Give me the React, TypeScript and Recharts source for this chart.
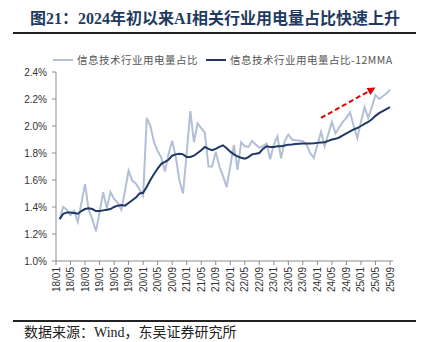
import React from 'react';
import { LineChart, Line, XAxis, YAxis, ReferenceLine } from 'recharts';

const months = [
  '18/01','18/02','18/03','18/04','18/05','18/06','18/07','18/08','18/09','18/10','18/11','18/12',
  '19/01','19/02','19/03','19/04','19/05','19/06','19/07','19/08','19/09','19/10','19/11','19/12',
  '20/01','20/02','20/03','20/04','20/05','20/06','20/07','20/08','20/09','20/10','20/11','20/12',
  '21/01','21/02','21/03','21/04','21/05','21/06','21/07','21/08','21/09','21/10','21/11','21/12',
  '22/01','22/02','22/03','22/04','22/05','22/06','22/07','22/08','22/09','22/10','22/11','22/12',
  '23/01','23/02','23/03','23/04','23/05','23/06','23/07','23/08','23/09','23/10','23/11','23/12',
  '24/01','24/02','24/03','24/04','24/05','24/06','24/07','24/08','24/09','24/10','24/11','24/12',
  '25/01','25/02','25/03','25/04','25/05','25/06','25/07','25/08','25/09',
];

const shareMonthly = [
  null, 1.31, 1.40, 1.38, 1.34, 1.37, 1.29, 1.43, 1.57, 1.38, 1.31, 1.22,
  1.36, 1.51, 1.39, 1.51, 1.46, 1.43, 1.38, 1.52, 1.67, 1.595, 1.575, 1.53,
  1.485, 2.06, 2.00, 1.88, 1.815, 1.766, 1.663, 1.79, 1.89, 1.77, 1.595, 1.50,
  1.80, 2.11, 1.88, 2.02, 1.985, 1.95, 1.70, 1.70, 1.81, 1.70, 1.63, 1.546,
  1.70, 1.86, 1.675, 1.88, 1.85, 1.845, 1.89, 1.863, 1.84, 1.85, 1.87, 1.754,
  1.863, 1.924, 1.76, 1.888, 1.937, 1.90, 1.895, 1.893, 1.888, 1.863, 1.80, 1.765,
  1.86, 1.956, 1.85, 1.94, 2.03, 1.945, 1.99, 2.03, 2.06, 2.10, 2.00, 1.91,
  2.03, 2.14, 2.06, 2.14, 2.23, 2.20, 2.22, 2.24, 2.27,
];

const share12MMA = [
  null, 1.31, 1.35, 1.36, 1.36, 1.355, 1.35, 1.37, 1.385, 1.39, 1.385, 1.37,
  1.37, 1.375, 1.38, 1.385, 1.40, 1.41, 1.415, 1.41, 1.43, 1.45, 1.47, 1.50,
  1.505, 1.55, 1.60, 1.645, 1.685, 1.72, 1.735, 1.75, 1.78, 1.79, 1.795, 1.79,
  1.77, 1.77, 1.78, 1.80, 1.82, 1.845, 1.83, 1.82, 1.83, 1.845, 1.857, 1.835,
  1.81, 1.79, 1.775, 1.765, 1.758, 1.77, 1.79, 1.795, 1.80, 1.83, 1.85, 1.845,
  1.845, 1.85, 1.85, 1.855, 1.862, 1.863, 1.866, 1.868, 1.87, 1.87, 1.87, 1.872,
  1.875, 1.878, 1.88, 1.89, 1.90, 1.905, 1.915, 1.93, 1.945, 1.96, 1.975, 1.985,
  2.00, 2.015, 2.03, 2.05, 2.075, 2.095, 2.11, 2.125, 2.14,
];

const yTicks = [1.0, 1.2, 1.4, 1.6, 1.8, 2.0, 2.2, 2.4];

const seriesNames = ['信息技术行业用电量占比', '信息技术行业用电量占比-12MMA'];
const titleText = '图21：2024年初以来AI相关行业用电量占比快速上升';
const sourceText = '数据来源：Wind，东吴证券研究所';

const arrowStart = { x: '24/02', y: 2.06 };
const arrowEnd = { x: '25/05', y: 2.285 };

const data = months.map((m, i) => ({ month: m, raw: shareMonthly[i], mma: share12MMA[i] }));

const LIGHT = '#B3BFD6';
const DARK = '#1F3864';
const AXIS = '#8C8C8C';

const XTick = (props: any) => {
  const { x, y, payload } = props;
  return (
    <text
      x={x}
      y={y}
      transform={`rotate(-90, ${x}, ${y})`}
      textAnchor="end"
      dominantBaseline="central"
      fontSize={10}
      fontFamily="'Liberation Sans', Arial, sans-serif"
      fill="#333"
    >
      {payload.value}
    </text>
  );
};

const ArrowShape = (props: any) => {
  const { x1, y1, x2, y2 } = props;
  if ([x1, y1, x2, y2].some((v) => typeof v !== 'number' || isNaN(v))) return null;
  const dx = x2 - x1;
  const dy = y2 - y1;
  const len = Math.sqrt(dx * dx + dy * dy);
  const ux = dx / len;
  const uy = dy / len;
  const headLen = 8;
  const headW = 4;
  const bx = x2 - ux * headLen;
  const by = y2 - uy * headLen;
  const px = -uy;
  const py = ux;
  return (
    <g>
      <line x1={x1} y1={y1} x2={bx} y2={by} stroke="#E00000" strokeWidth={2} strokeDasharray="5 3" />
      <polygon
        points={`${x2},${y2} ${bx + px * headW},${by + py * headW} ${bx - px * headW},${by - py * headW}`}
        fill="#E00000"
      />
    </g>
  );
};

export default function App() {
  return (
    <div style={{ position: 'absolute', left: 0, top: 0, width: 436, height: 342, background: '#fff', overflow: 'hidden' }}>
      <div
        style={{
          position: 'absolute',
          top: 8,
          left: 0,
          width: 430,
          textAlign: 'center',
          fontSize: 16,
          lineHeight: '22px',
          fontWeight: 'bold',
          fontFamily: "'Liberation Serif', 'Noto Sans CJK SC', serif",
          color: '#1F3A60',
          whiteSpace: 'nowrap',
        }}
      >
        {titleText}
      </div>
      <div style={{ position: 'absolute', top: 32, left: 13, width: 403, height: 2, background: '#222' }} />

      <div
        style={{
          position: 'absolute',
          top: 52,
          left: 53,
          display: 'flex',
          alignItems: 'center',
          fontSize: 10.5,
          letterSpacing: 0.5,
          lineHeight: '16px',
          fontFamily: "'Noto Sans CJK SC', sans-serif",
          color: '#555',
          whiteSpace: 'nowrap',
        }}
      >
        <span style={{ display: 'inline-block', width: 20, height: 2, background: LIGHT, marginRight: 4 }} />
        <span>{seriesNames[0]}</span>
        <span style={{ display: 'inline-block', width: 20, height: 2, background: DARK, marginLeft: 8, marginRight: 4 }} />
        <span>{seriesNames[1]}</span>
      </div>

      <div style={{ position: 'absolute', left: 0, top: 0 }}>
        <LineChart
          width={436}
          height={342}
          data={data}
          margin={{ top: 72, right: 43, bottom: 41, left: 0 }}
        >
          <XAxis
            dataKey="month"
            interval={3}
            tick={<XTick />}
            tickSize={4}
            tickMargin={2}
            height={40}
            padding={{ left: 0, right: 3 }}
            axisLine={{ stroke: AXIS }}
            tickLine={{ stroke: AXIS }}
          />
          <YAxis
            domain={[1.0, 2.4]}
            ticks={yTicks}
            width={56}
            tickSize={4}
            tickMargin={5}
            tickFormatter={(v: number) => `${v.toFixed(1)}%`}
            tick={{ fontSize: 10, fill: '#333', fontFamily: "'Liberation Sans', Arial, sans-serif" }}
            axisLine={{ stroke: AXIS }}
            tickLine={{ stroke: AXIS }}
            allowDataOverflow
          />
          <Line
            type="linear"
            dataKey="raw"
            stroke={LIGHT}
            strokeWidth={2}
            dot={false}
            isAnimationActive={false}
          />
          <Line
            type="linear"
            dataKey="mma"
            stroke={DARK}
            strokeWidth={2}
            dot={false}
            isAnimationActive={false}
          />
          <ReferenceLine
            segment={[arrowStart, arrowEnd]}
            stroke="#E00000"
            ifOverflow="visible"
            shape={<ArrowShape />}
          />
        </LineChart>
      </div>

      <div style={{ position: 'absolute', top: 320, left: 13, width: 403, height: 2, background: '#222' }} />
      <div
        style={{
          position: 'absolute',
          top: 325,
          left: 24,
          fontSize: 14,
          lineHeight: '16px',
          fontFamily: "'Liberation Serif', 'Noto Sans CJK SC', serif",
          color: '#222',
          whiteSpace: 'nowrap',
        }}
      >
        {sourceText}
      </div>
    </div>
  );
}
